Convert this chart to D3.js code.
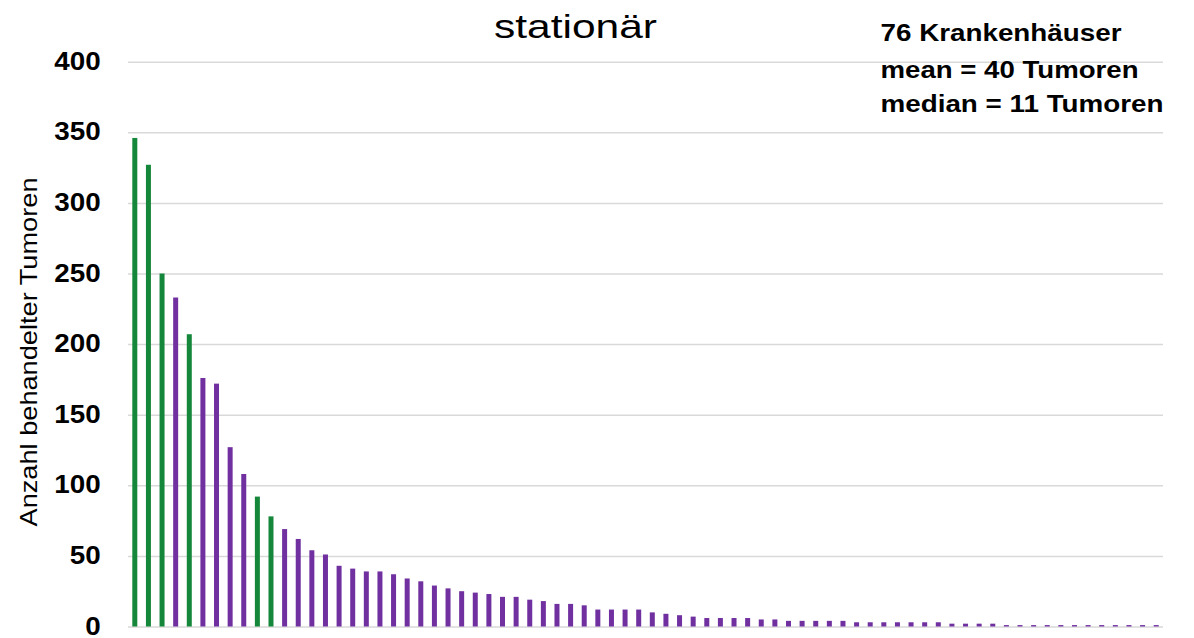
<!DOCTYPE html>
<html>
<head>
<meta charset="utf-8">
<script src="https://cdn.jsdelivr.net/npm/d3@7"></script>
<style>
  body { margin: 0; background: #ffffff; }
  svg { display: block; }
</style>
</head>
<body>
<svg id="chart" width="1194" height="638"></svg>
<script>
// Treated tumours per hospital (inpatient), sorted descending
const tumourCounts = [
  346, 327, 250, 233, 207, 176, 172, 127, 108, 92,
  78, 69, 62, 54, 51, 43, 41, 39, 39, 37,
  34, 32, 29, 27, 25, 24, 23, 21, 21, 19,
  18, 16, 16, 15, 12, 12, 12, 12, 10, 9,
  8, 7, 6, 6, 6, 6, 5, 5, 4, 4,
  4, 4, 4, 3, 3, 3, 3, 3, 3, 3,
  2, 2, 2, 2, 1, 1, 1, 1, 1, 1,
  1, 1, 1, 1, 1, 1
];
// Hospital rank (x categories)
const hospitalRanks = [
  1, 2, 3, 4, 5, 6, 7, 8, 9, 10, 11, 12, 13, 14, 15, 16, 17, 18, 19, 20,
  21, 22, 23, 24, 25, 26, 27, 28, 29, 30, 31, 32, 33, 34, 35, 36, 37, 38, 39, 40,
  41, 42, 43, 44, 45, 46, 47, 48, 49, 50, 51, 52, 53, 54, 55, 56, 57, 58, 59, 60,
  61, 62, 63, 64, 65, 66, 67, 68, 69, 70, 71, 72, 73, 74, 75, 76
];
// Ranks drawn in green
const highlightedRanks = [1, 2, 3, 5, 10, 11];
const yTicks = [0, 50, 100, 150, 200, 250, 300, 350, 400];
const titleText = "stationär";
const yAxisLabel = "Anzahl behandelter Tumoren";
const summaryLines = ["76 Krankenhäuser", "mean = 40 Tumoren", "median = 11 Tumoren"];

const GREEN = "#15873b";
const PURPLE = "#7030a0";
const GRID = "#d9d9d9";

const plot = { left: 128, right: 1163, top: 61.7, bottom: 626.5 };

const svg = d3.select("#chart");

const x = d3.scaleBand()
  .domain(hospitalRanks)
  .range([plot.left, plot.right])
  .paddingInner(0.633)
  .paddingOuter(0.3165);

const y = d3.scaleLinear()
  .domain([0, 400])
  .range([plot.bottom, plot.top]);

// Gridlines + tick labels
const yAxis = svg.append("g")
  .attr("transform", `translate(${plot.left},0)`)
  .call(d3.axisLeft(y)
    .tickValues(yTicks)
    .tickSize(-(plot.right - plot.left))
    .tickPadding(0)
    .tickFormat(d3.format("d")));

yAxis.select(".domain").remove();
yAxis.selectAll(".tick line")
  .attr("stroke", GRID)
  .attr("stroke-width", 1.5);

const tickStretch = 1.07;
yAxis.selectAll(".tick text")
  .attr("x", -27.3 / tickStretch)
  .attr("dy", "0.29em")
  .attr("transform", `scale(${tickStretch},1)`)
  .attr("fill", "#000")
  .style("font-family", "'Liberation Sans', Arial, sans-serif")
  .style("font-weight", "bold")
  .style("font-size", "26px");

// Bars
const rows = hospitalRanks.map((r, i) => ({ rank: r, value: tumourCounts[i] }));

svg.append("g")
  .selectAll("rect")
  .data(rows)
  .join("rect")
  .attr("x", d => x(d.rank))
  .attr("width", x.bandwidth())
  .attr("y", d => y(d.value))
  .attr("height", d => y(0) - y(d.value))
  .attr("fill", d => highlightedRanks.includes(d.rank) ? GREEN : PURPLE);

// Title
svg.append("text")
  .attr("x", 494)
  .attr("y", 38)
  .attr("textLength", 163)
  .attr("lengthAdjust", "spacingAndGlyphs")
  .attr("fill", "#000")
  .style("font-family", "'Liberation Sans', Arial, sans-serif")
  .style("font-size", "34px")
  .text(titleText);

// Y axis title
svg.append("text")
  .attr("transform", "translate(37,352) rotate(-90)")
  .attr("text-anchor", "middle")
  .attr("textLength", 349)
  .attr("lengthAdjust", "spacingAndGlyphs")
  .attr("fill", "#000")
  .style("font-family", "'Liberation Sans', Arial, sans-serif")
  .style("font-size", "24px")
  .text(yAxisLabel);

// Summary statistics
const summaryWidths = [241, 258, 283];
const summaryBaselines = [41, 78, 112];
svg.append("g")
  .selectAll("text")
  .data(summaryLines)
  .join("text")
  .attr("x", 880.5)
  .attr("y", (d, i) => summaryBaselines[i])
  .attr("textLength", (d, i) => summaryWidths[i])
  .attr("lengthAdjust", "spacingAndGlyphs")
  .attr("fill", "#000")
  .style("font-family", "'Liberation Sans', Arial, sans-serif")
  .style("font-weight", "bold")
  .style("font-size", "23px")
  .text(d => d);
</script>
</body>
</html>
